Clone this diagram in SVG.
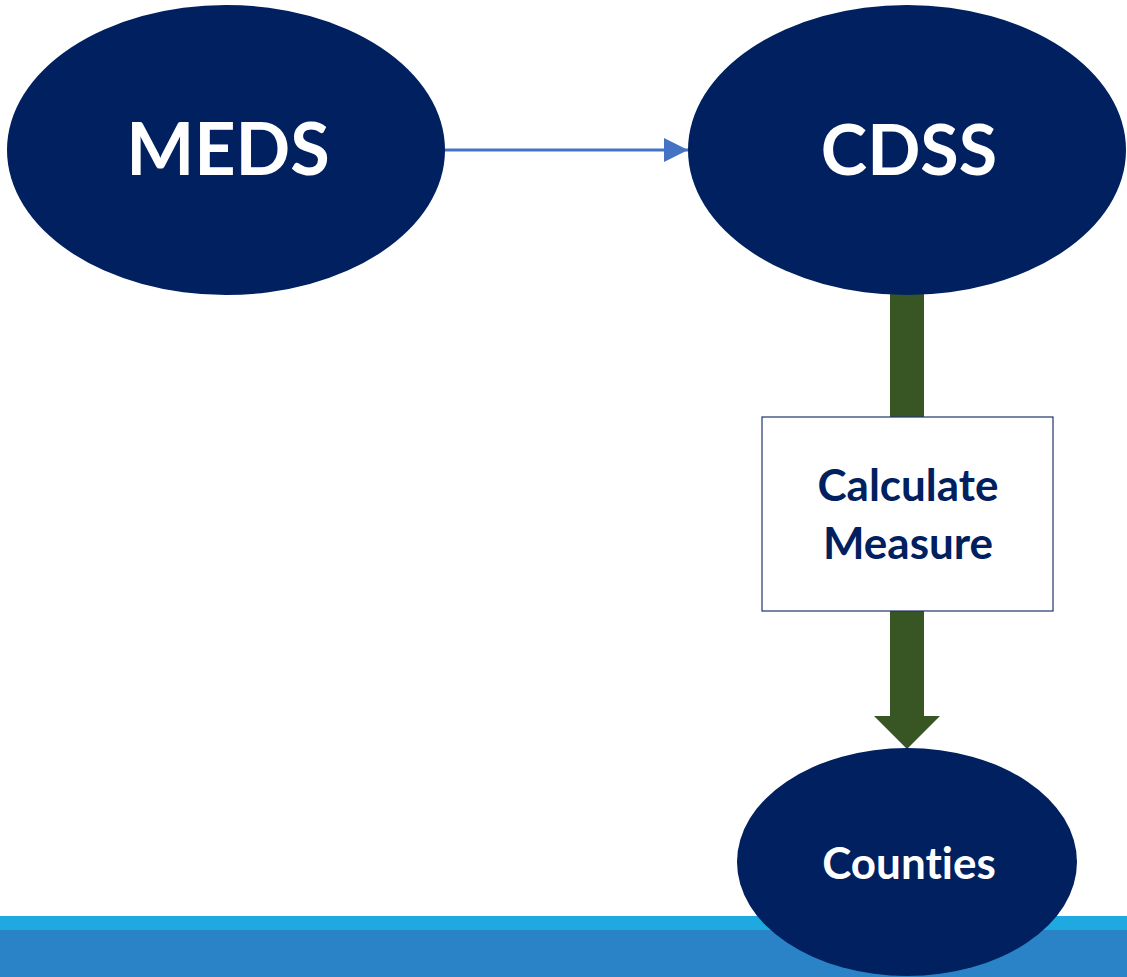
<svg xmlns="http://www.w3.org/2000/svg" width="1127" height="977" viewBox="0 0 1127 977">
<defs>
<style>
.node{fill:#002060;}
.big{font-family:Lato,"Open Sans","Liberation Sans",sans-serif;font-weight:bold;fill:#ffffff;text-anchor:middle;font-variant-ligatures:none;}
.box{fill:#ffffff;stroke:#1F3570;stroke-width:1.2;}
.boxt{font-family:Lato,"Open Sans","Liberation Sans",sans-serif;font-weight:bold;fill:#002060;text-anchor:middle;font-size:44px;font-variant-ligatures:none;}
</style>
<marker id="ah" markerUnits="userSpaceOnUse" markerWidth="26" markerHeight="26" refX="24" refY="12" orient="auto">
<path d="M0,0 L24,12 L0,24 Z" fill="#4472C4"/>
</marker>
</defs>
<rect width="1127" height="977" fill="#ffffff"/>
<g id="band">
<rect x="0" y="916" width="1127" height="14" fill="#1EAAE1"/>
<rect x="0" y="930" width="1127" height="47" fill="#2983C6"/>
</g>
<g id="connectors">
<line x1="444" y1="150" x2="688" y2="150" stroke="#4472C4" stroke-width="3" marker-end="url(#ah)"/>
<rect x="890" y="293" width="34" height="126" fill="#375623"/>
<path d="M890,609 L924,609 L924,716 L940,716 L907,749 L874,716 L890,716 Z" fill="#375623"/>
</g>
<g id="meds">
<ellipse class="node" cx="226" cy="150" rx="219" ry="145"/>
<text class="big" x="228" y="175" font-size="72">MEDS</text>
</g>
<g id="cdss">
<ellipse class="node" cx="907" cy="150" rx="219" ry="145"/>
<text class="big" x="909" y="175" font-size="70">CDSS</text>
</g>
<g id="calc">
<rect class="box" x="762" y="417" width="291" height="194"/>
<text class="boxt" x="908" y="501">Calculate</text>
<text class="boxt" x="908" y="559">Measure</text>
</g>
<g id="counties">
<ellipse class="node" cx="907" cy="862" rx="170" ry="114"/>
<text class="big" x="909" y="879" font-size="44">Counties</text>
</g>
</svg>
